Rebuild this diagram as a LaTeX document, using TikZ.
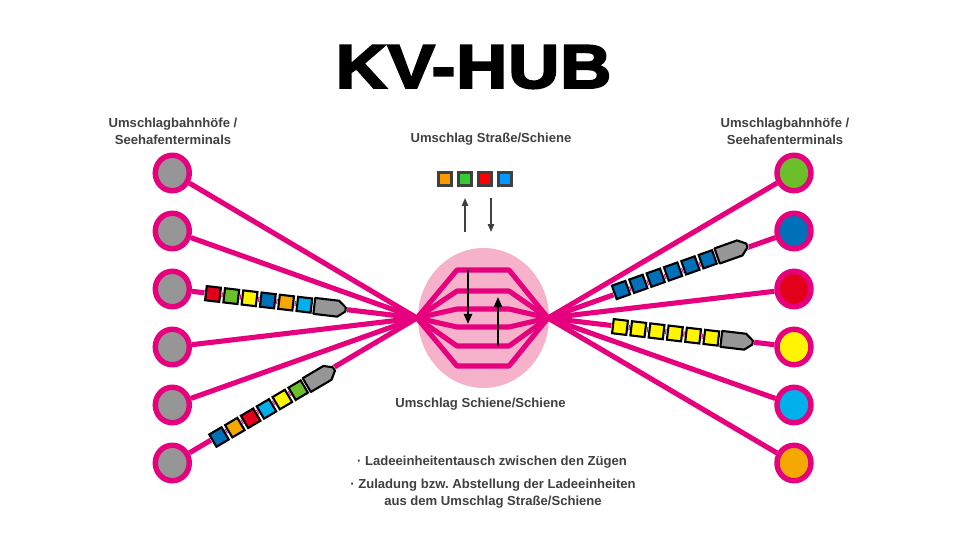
\documentclass[tikz,border=0pt]{standalone}
\usepackage{fontspec}
\usepackage{xcolor}
\setmainfont{Liberation Sans}
\newfontfamily\titlefont[FakeBold=3.6,FakeStretch=1.15,LetterSpace=1.5]{Liberation Sans Bold}
\usetikzlibrary{arrows.meta,shapes.geometric}

\definecolor{hubmagenta}{HTML}{E6007E}
\definecolor{hubpink}{HTML}{F6B2CB}
\definecolor{lblgrey}{HTML}{404040}
\definecolor{termgrey}{HTML}{969696}
\definecolor{cRed}{HTML}{E2001A}
\definecolor{cGreen}{HTML}{6ABF2A}
\definecolor{cYellow}{HTML}{FFF500}
\definecolor{cBlue}{HTML}{0070B8}
\definecolor{cOrange}{HTML}{F5A800}
\definecolor{cCyan}{HTML}{00B0EC}

\tikzset{
    terminal/.style={ellipse, draw=hubmagenta, line width=3.1pt, minimum width=0.68cm, minimum height=0.71cm, inner sep=0pt},
    track/.style={draw=hubmagenta, line width=2.9pt, line join=round},
    wagon/.style={draw=black, line width=1.2pt, minimum size=0.285cm, inner sep=0pt, preaction={draw=white, line width=1.7pt}},
    loco/.style={draw=black, line width=1.2pt, fill=termgrey, line join=round, preaction={draw=white, line width=1.7pt}},
    box/.style={draw=lblgrey, line width=1.6pt, minimum size=0.27cm, inner sep=0pt},
    lbl/.style={text=lblgrey, align=center, font=\fontsize{7.45}{9.6}\selectfont\bfseries\frenchspacing, inner sep=0pt},
    move/.style={draw=black, line width=1.2pt, -{Triangle[length=5.7pt,width=4.6pt]}},
    load/.style={draw=lblgrey, line width=0.8pt, -{Triangle[length=4.5pt,width=3.6pt]}}
}

% one train: first wagon centre, angle, wagon colours
\newcommand{\train}[4]{
    \begin{scope}[shift={(#1,#2)}, rotate=#3]
        \foreach \col [count=\i from 0] in {#4}
            \node[wagon, fill=\col, rotate=#3] (w\i) at (\i*18.4,0) {};
        \draw[loco] (102,-8) -- (126,-8) -- (133.5,-2) -- (133.5,2) -- (126,8) -- (102,8) -- cycle;
    \end{scope}
}

\begin{document}
\begin{tikzpicture}[x=0.02cm,y=-0.02cm]
    \useasboundingbox (0,0) rectangle (960,540);

    % Title
    \node[inner sep=0pt] (title) at (473.5,67) {\fontsize{35}{35}\titlefont KV-HUB};

    % Hub
    \node[ellipse, fill=hubpink, minimum width=2.62cm, minimum height=2.8cm, inner sep=0pt] (hub) at (483.5,318) {};
    \coordinate (hubL) at (417,318);
    \coordinate (hubR) at (548,318);

    % Lines, then terminals on top
    \foreach \y [count=\i] in {173,231,289,347,405,463}
        \node[terminal, fill=termgrey] (L\i) at (172.3,\y) {};
    \foreach \y/\col [count=\i] in {173/cGreen,231/cBlue,289/cRed,347/cYellow,405/cCyan,463/cOrange}
        \node[terminal, fill=\col] (R\i) at (794,\y) {};
    \foreach \i in {1,...,6} {
        \draw[track] (L\i) -- (hubL);
        \draw[track] (R\i) -- (hubR);
    }

    % Tracks
    \foreach \y in {270,291,309,327,346,366}
        \draw[track] (hubL) -- (457,\y) -- (509,\y) -- (hubR);
    \coordinate (mvA) at (468,270);
    \coordinate (mvB) at (468,324);
    \coordinate (mvC) at (498,346);
    \coordinate (mvD) at (498,297);
    \draw[move] (mvA) -- (mvB);
    \draw[move] (mvC) -- (mvD);

    % Trains
    \train{213}{294}{-6.7}{cRed,cGreen,cYellow,cBlue,cOrange,cCyan}
    \train{219}{437}{30.6}{cBlue,cOrange,cRed,cCyan,cYellow,cGreen}
    \train{621}{290}{19.5}{cBlue,cBlue,cBlue,cBlue,cBlue,cBlue}
    \train{620}{327}{-6.7}{cYellow,cYellow,cYellow,cYellow,cYellow,cYellow}

    % Road/rail
    \foreach \x/\col in {445/FF9900,465/33CC33,485/FF0000,505/0099FF} {
        \definecolor{tmpc}{HTML}{\col}
        \node[box, fill=tmpc] (b\x) at (\x,179) {};
    }
    \coordinate (upA) at (465,232);
    \coordinate (upB) at (465,198);
    \coordinate (dnA) at (491,198);
    \coordinate (dnB) at (491,232);
    \draw[load] (upA) -- (upB);
    \draw[load] (dnA) -- (dnB);

    % Labels
    \node[lbl] (tL) at (173,131.5) {Umschlagbahnhöfe /\\Seehafenterminals};
    \node[lbl] (tR) at (785,131.5) {Umschlagbahnhöfe /\\Seehafenterminals};
    \node[lbl] (tS) at (491,139) {Umschlag Straße/Schiene};
    \node[lbl] (tH) at (480.5,404) {Umschlag Schiene/Schiene};
    \node[lbl] (tA) at (492,462.5) {· Ladeeinheitentausch zwischen den Zügen};
    \node[lbl] (tB) at (493,493.5) {· Zuladung bzw. Abstellung der Ladeeinheiten\\aus dem Umschlag Straße/Schiene};
\end{tikzpicture}
\end{document}
